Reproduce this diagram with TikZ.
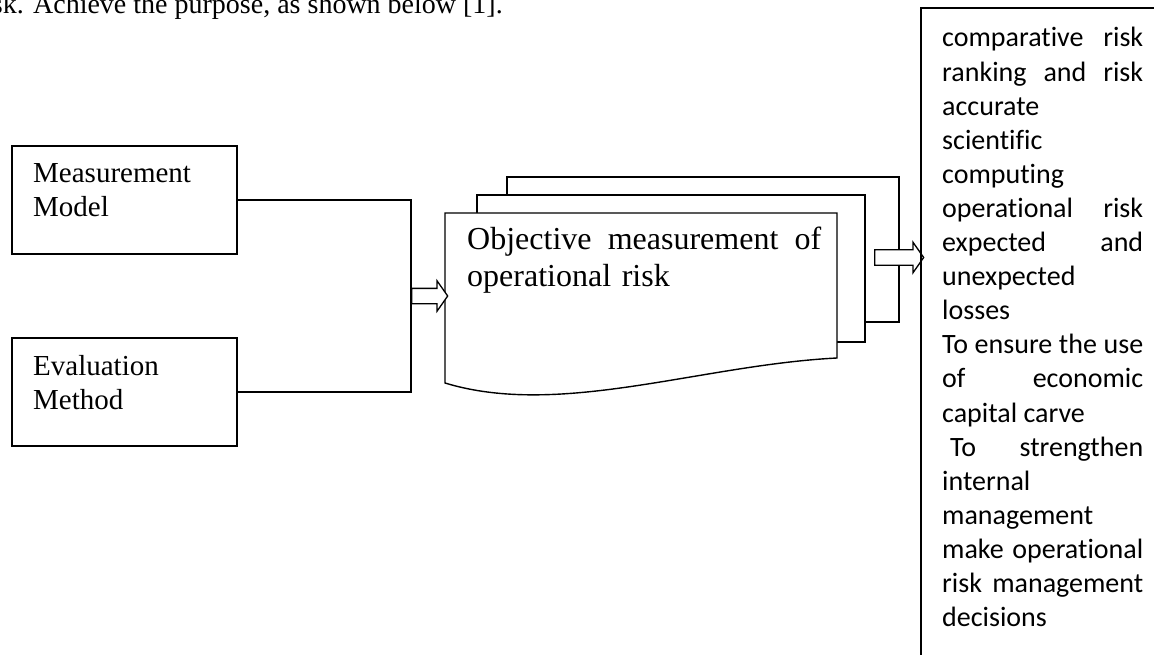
\documentclass[tikz,border=0pt]{standalone}
\usepackage{fontspec}
\setmainfont{Liberation Serif}
\newfontfamily\calfont[Ligatures=NoCommon]{Carlito}
\usetikzlibrary{shapes.arrows}
\newcommand{\jline}[2]{\makebox[#1][s]{\spaceskip=0pt\xspaceskip=0pt #2}}

\begin{document}
\begin{tikzpicture}[x=1pt,y=-1pt,
  box/.style={draw, line width=1.4pt, minimum width=225pt, minimum height=108pt, inner sep=0pt},
  boxtext/.style={anchor=base west, inner sep=0pt, text width=190pt, align=left, font=\fontsize{29}{34}\selectfont},
  page/.style={draw, line width=1.4pt, fill=white},
  blockarrow/.style={draw, fill=white, line width=1.3pt, single arrow, single arrow head extend=7.5pt, single arrow tip angle=110, inner xsep=0pt, inner ysep=7pt, minimum width=0pt},
  link/.style={line width=1.4pt}]

\useasboundingbox (0,0) rectangle (1154,655);

% Body text cut by the top edge
\node[anchor=base east, inner sep=0pt, font=\fontsize{28}{34}\selectfont] (body) at (503,14) {sk. Achieve the purpose, as shown below [1].};

% Input boxes
\node[box] (model) at (124.5,200) {};
\node[box] (method) at (124.5,392) {};
\node[boxtext] (modeltext) at (33,183) {Measurement\\Model};
\node[boxtext] (methodtext) at (33,375) {Evaluation\\Method};

% Stack of pages, back to front
\draw[page] (507,177) rectangle (899,322);
\draw[page] (477,195) rectangle (865,342);
\draw[page] (445,213) -- (837,213) -- (837,358) .. controls (700,365) and (560,418) .. (445,383) -- cycle;
\node[anchor=base west, inner sep=0pt, text width=354pt, align=left, font=\fontsize{32}{37}\selectfont] (risktext) at (467,250) {\jline{354pt}{Objective measurement of}\\operational risk};

% Block arrows
\node[blockarrow, minimum height=36pt] (arrin) at (427,296) {};
\node[blockarrow, minimum height=49pt] (arrout) at (896.5,257.5) {};

% Connectors
\draw[link] (model.east) -| (arrin.tail) |- (method.east);

% Purpose box
\node[draw, line width=1.6pt, anchor=north west, minimum width=300pt, minimum height=700pt] (goals) at (920,7) {};
\node[anchor=base west, inner sep=0pt, text width=201pt, align=left, font=\calfont\fontsize{28}{34.1}\selectfont] (goalstext) at (942,47) {%
\spaceskip=0pt\xspaceskip=0pt
\jline{201pt}{comparative risk}\\
\jline{201pt}{ranking and risk}\\
accurate\\
scientific\\
computing\\
\jline{201pt}{operational risk}\\
\jline{201pt}{expected and}\\
unexpected\\
losses\\
\jline{201pt}{To ensure the use}\\
\jline{201pt}{of economic}\\
capital carve\\
\jline{201pt}{\hspace*{8pt}To strengthen}\\
internal\\
management\\
\jline{201pt}{make operational}\\
\jline{201pt}{risk management}\\
decisions};

\end{tikzpicture}
\end{document}
